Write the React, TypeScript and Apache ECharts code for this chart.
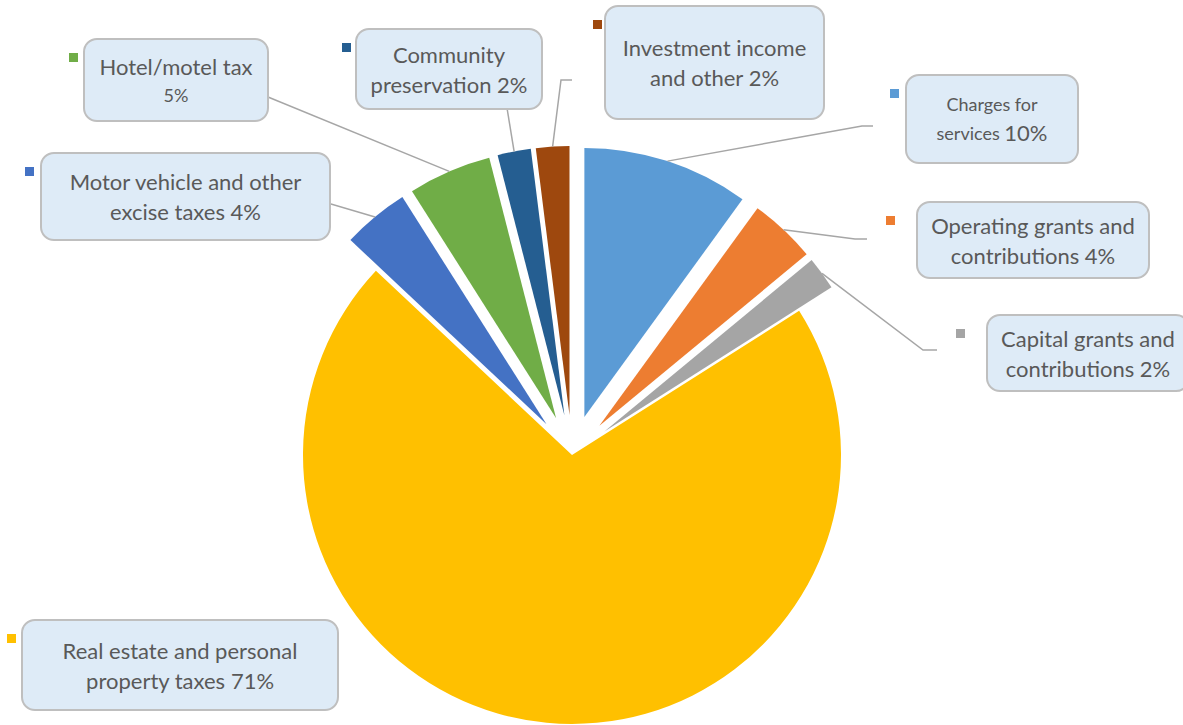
import React, { useEffect, useRef } from "react";
import * as echarts from "echarts";

// ---- data ----
const categories = [
  "Charges for services",
  "Operating grants and contributions",
  "Capital grants and contributions",
  "Real estate and personal property taxes",
  "Motor vehicle and other excise taxes",
  "Hotel/motel tax",
  "Community preservation",
  "Investment income and other",
];
const values = [10, 4, 2, 71, 4, 5, 2, 2];
const exploded = [true, true, true, false, true, true, true, true];
const colors = ["#5B9BD5", "#ED7D31", "#A5A5A5", "#FFC000", "#4472C4", "#70AD47", "#255E91", "#9E480E"];

// ---- label layout (presentation only) ----
const firstLineWords = [2, 3, 3, 4, 4, 2, 1, 2];
const nameSmall = [true, false, false, false, false, false, false, false];
const pctSmall = [false, false, false, false, false, true, false, false];
// box: left, top, width, height
const boxes = [
  [907, 76, 170, 86],
  [918, 203, 230, 74],
  [988, 316, 200, 74],
  [23, 621, 314, 88],
  [42, 154, 287, 85],
  [85, 40, 182, 80],
  [357, 30, 184, 78],
  [606, 7, 217, 111],
];
const keyDx = [-17, -32, -32, -16, -17, -16, -15, -13];
const bends: (number[] | null)[] = [[862, 126], [855, 239], [923, 350], null, [331, 204], null, null, [561, 80]];
const ends: (number[] | null)[] = [[873, 126], [867, 239], [937, 350], null, [330, 204], [268, 97], [507, 108], [572, 80]];

const PIE_R = 269;
const EXPLODE = 40;
const M_LH = 30;
const S_LH = 27;

export default function App() {
  const ref = useRef<HTMLDivElement>(null);
  useEffect(() => {
    if (!ref.current) return;
    const chart = echarts.init(ref.current, undefined, { renderer: "svg" });
    const FONT = "Lato";

    const sliceData = categories.map((name, i) => ({
      name,
      value: values[i],
      selected: exploded[i],
      itemStyle: { color: colors[i] },
    }));

    const labelData = categories.map((name, i) => {
      const [, , w, h] = boxes[i];
      const lh1 = nameSmall[i] ? S_LH : M_LH;
      const lh2 = Math.max(pctSmall[i] ? S_LH : M_LH, nameSmall[i] && firstLineWords[i] < name.split(" ").length ? S_LH : 0);
      const contentH = lh1 + lh2;
      const pad = Math.max(0, (h - contentH) / 2);
      return {
        name,
        value: values[i],
        itemStyle: { color: "rgba(0,0,0,0)" },
        label: { width: w, padding: [pad, 0, pad, 0] },
        labelLine: { show: ends[i] != null },
      };
    });

    const option: any = {
      animation: false,
      backgroundColor: "#ffffff",
      series: [
        {
          type: "pie",
          center: [572, 455],
          radius: PIE_R,
          startAngle: 90,
          clockwise: true,
          selectedMode: "multiple",
          selectedOffset: EXPLODE,
          avoidLabelOverlap: false,
          emphasis: { disabled: true },
          silent: true,
          label: { show: false },
          labelLine: { show: false },
          data: sliceData,
        },
        {
          type: "pie",
          center: [572, 455],
          radius: PIE_R + EXPLODE,
          startAngle: 90,
          clockwise: true,
          selectedMode: false,
          avoidLabelOverlap: false,
          emphasis: { disabled: true },
          silent: true,
          z: 3,
          data: labelData,
          label: {
            show: true,
            position: "outside",
            overflow: "none",
            backgroundColor: "#DEEBF7",
            borderColor: "#BFBFBF",
            borderWidth: 2,
            borderRadius: 12,
            color: "#595959",
            fontFamily: FONT,
            formatter: (p: any) => {
              const i = p.dataIndex;
              const words = categories[i].split(" ");
              const n = firstLineWords[i];
              const l1 = words.slice(0, n).join(" ");
              const rest = words.slice(n).join(" ");
              const nk = nameSmall[i] ? "s" : "m";
              const pk = pctSmall[i] ? "s" : "m";
              const pct = `${p.percent}%`;
              const line2 = rest ? `{${nk}|${rest} }{${pk}|${pct}}` : `{${pk}|${pct}}`;
              return `{${nk}|${l1}}\n${line2}`;
            },
            rich: {
              m: { fontSize: 22, lineHeight: M_LH, color: "#595959", fontFamily: FONT, align: "center" },
              s: { fontSize: 18, lineHeight: S_LH, color: "#595959", fontFamily: FONT, align: "center" },
            },
          },
          labelLine: {
            show: true,
            length: 10,
            length2: 10,
            lineStyle: { color: "#A6A6A6", width: 1.5 },
          },
          labelLayout: (params: any) => {
            const i = params.dataIndex;
            const [l, t, w, h] = boxes[i];
            const res: any = {
              x: l + w / 2,
              y: t + h / 2,
              align: "center",
              verticalAlign: "middle",
            };
            const e = ends[i];
            if (e && params.labelLinePoints) {
              const s = params.labelLinePoints[0];
              res.labelLinePoints = [s, bends[i] || e, e];
            }
            return res;
          },
        },
      ],
      graphic: boxes.map((b, i) => ({
        type: "rect",
        shape: { x: b[0] + keyDx[i], y: b[1] + 13, width: 9, height: 9 },
        style: { fill: colors[i] },
        silent: true,
      })),
    };
    chart.setOption(option);
    return () => chart.dispose();
  }, []);
  return <div ref={ref} style={{ position: "absolute", left: 0, top: 0, width: 1183, height: 725 }} />;
}
